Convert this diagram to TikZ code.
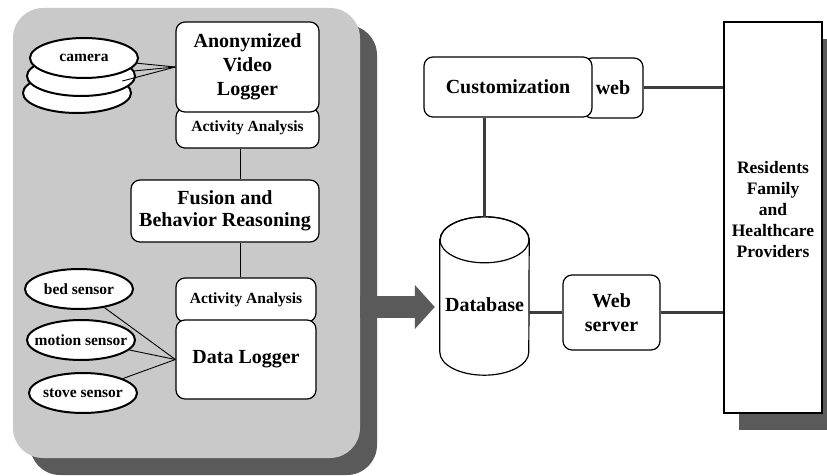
\documentclass[tikz,border=0pt]{standalone}
\usepackage{fontspec}
\setmainfont{Liberation Serif}
\usetikzlibrary{positioning, shapes.geometric, shadows, arrows.meta}
\definecolor{paneel}{HTML}{C9C9C9}
\definecolor{schatten}{HTML}{5A5A5A}
\definecolor{leitung}{HTML}{3C3C3C}
\newcommand{\sensortext}[1]{\makebox[0pt]{#1}}
\tikzset{kasten/.style={rectangle, rounded corners=9pt, draw, line width=1.2pt, fill=white, align=center, inner sep=1pt},
	sensor/.style={ellipse, draw, line width=2pt, fill=white, minimum width=108pt, minimum height=40pt, inner sep=0pt,
		font=\bfseries\fontsize{15.5}{18}\selectfont},
	gross/.style={font=\bfseries\fontsize{20}{24}\selectfont},
	klein/.style={font=\bfseries\fontsize{15.5}{18}\selectfont},
	dick/.style={line width=3pt, leitung},
	duenn/.style={line width=0.9pt} }

\begin{document}
\begin{tikzpicture}[x=1pt, y=-1pt]
	\useasboundingbox (0,0) rectangle (827,476);

	% graue Flaeche mit Schatten
	\node (panel) [rectangle, rounded corners=30pt, fill=paneel, minimum width=347pt, minimum height=450pt,
		drop shadow={shadow xshift=17pt, shadow yshift=-17pt, fill=schatten, opacity=1}] at (186.5,233) {};

	% Videozweig
	\node (aa1) [kasten, klein, minimum width=143pt, minimum height=40pt] at (247.5,128) {Activity Analysis};
	\node (avl) [kasten, gross, minimum width=143pt, minimum height=90pt] at (247.5,67) {Anonymized\\Video\\Logger};
	\node (cam3) [sensor] at (77,93) {};
	\node (cam2) [sensor] at (81,76) {};
	\node (cam1) [sensor] at (84,58) {\sensortext{camera}};
	\draw [duenn] (cam1) -- (avl.west);
	\draw [duenn] (cam2) -- (avl.west);
	\draw [duenn] (cam3) -- (avl.west);

	\node (fusion) [kasten, gross, minimum width=188pt, minimum height=62pt] at (225,211) {Fusion and\\[-2pt]Behavior Reasoning};

	% Sensorzweig
	\node (aa2) [kasten, klein, minimum width=140pt, minimum height=44pt] at (246,300) {Activity Analysis};
	\node (dl) [kasten, gross, minimum width=140pt, minimum height=79pt] at (246,359.5) {Data Logger};
	\node (bed) [sensor] at (79,289) {\sensortext{bed sensor}};
	\node (motion) [sensor] at (81,340) {\sensortext{motion sensor}};
	\node (stove) [sensor] at (83,393) {\sensortext{stove sensor}};
	\draw [duenn] (bed) -- (dl.west);
	\draw [duenn] (motion) -- (dl.west);
	\draw [duenn] (stove) -- (dl.west);

	\draw [duenn] ([xshift=-7pt]aa1.south) -- ([xshift=-7pt]aa1.south |- fusion.north);
	\draw [duenn] ([xshift=-6pt]aa2.north) -- ([xshift=-6pt]aa2.north |- fusion.south);

	% rechte Seite
	\node (db) [minimum width=89pt, minimum height=158pt, inner sep=0pt] at (484.5,296) {};
	\draw [line width=1.2pt, fill=white] ([yshift=-23pt]db.north west) -- ([yshift=23pt]db.south west)
		arc [start angle=180, end angle=360, x radius=44.5pt, y radius=23pt] -- ([yshift=-23pt]db.north east)
		arc [start angle=0, end angle=180, x radius=44.5pt, y radius=23pt] -- cycle;
	\draw [line width=1.2pt] ([yshift=-23pt]db.north) ellipse [x radius=44.5pt, y radius=23pt];
	\node (dbtext) [gross] at ([yshift=-9pt]db.center) {Database};
	\node (web) [kasten, gross, minimum width=60pt, minimum height=60pt] at (613,88) {web};
	\node (cust) [kasten, gross, minimum width=168pt, minimum height=60pt] at (508,87) {Customization};
	\node (ws) [kasten, gross, minimum width=97pt, minimum height=75pt] at (611.5,312.5) {Web\\server};
	\node (res) [rectangle, draw, line width=1.2pt, fill=white, align=center, font=\bfseries\fontsize{17.5}{21}\selectfont,
		minimum width=98pt, minimum height=391pt, text depth=17pt,
		drop shadow={shadow xshift=15pt, shadow yshift=-17pt, fill=schatten, opacity=1}] at (773,217.5)
		{Residents\\Family\\and\\Healthcare\\Providers};

	\draw [dick] (db.north |- cust.south) -- (db.north);
	\draw [dick] (web.east) -- (web.east -| res.west);
	\draw [dick] (ws.west -| db.east) -- (ws.west);
	\draw [dick] (ws.east) -- (ws.east -| res.west);

	% dicker Pfeil
	\draw [-{Triangle[width=43pt, length=20pt]}, line width=22pt, schatten, shorten >=5pt]
		([yshift=-2pt]dbtext.west -| panel.east) -- ([yshift=-2pt]dbtext.west -| db.west);
\end{tikzpicture}
\end{document}
